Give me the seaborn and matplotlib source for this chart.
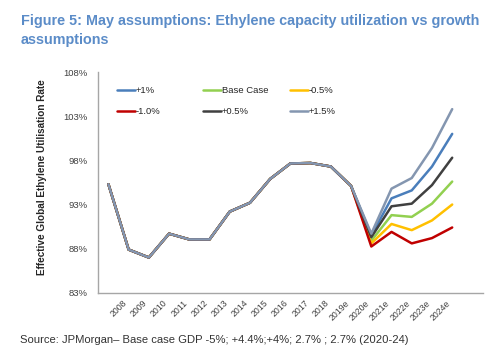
import numpy as np
import pandas as pd
import seaborn as sns
import matplotlib.pyplot as plt
from matplotlib.lines import Line2D
from matplotlib.legend import Legend

# categorías del eje x (la primera no lleva etiqueta en el original)
years = ['2007', '2008', '2009', '2010', '2011', '2012', '2013', '2014', '2015',
         '2016', '2017', '2018', '2019e', '2020e', '2021e', '2022e', '2023e', '2024e']
tick_labels = years[1:]

# historia común a todos los escenarios (2007-2019e)
historia = [95.3, 87.9, 87.0, 89.7, 89.05, 89.05, 92.2, 93.2, 95.9,
            97.65, 97.7, 97.3, 95.1]

# escenarios 2020e-2024e
mas_1 = [89.5, 93.7, 94.6, 97.3, 101.0]
base = [88.9, 91.8, 91.6, 93.1, 95.6]
menos_05 = [88.6, 90.8, 90.1, 91.2, 93.0]
menos_10 = [88.25, 89.9, 88.6, 89.2, 90.4]
mas_05 = [89.3, 92.8, 93.1, 95.2, 98.3]
mas_15 = [89.7, 94.8, 96.0, 99.4, 103.8]

escenarios = ['+1%', 'Base Case', '-0.5%', '-1.0%', '+0.5%', '+1.5%']
valores = [mas_1, base, menos_05, menos_10, mas_05, mas_15]
colores = ['#4A7EBB', '#92D050', '#FFC000', '#C00000', '#404040', '#8496B0']

filas = []
for nombre, vals in zip(escenarios, valores):
    for i, v in enumerate(historia + vals):
        filas.append({'x': i, 'Tasa': v, 'Escenario': nombre})
df = pd.DataFrame(filas)

sns.set_style('white')
plt.rcParams['font.family'] = ['Liberation Sans', 'DejaVu Sans']

fig = plt.figure(figsize=(4.99, 3.62), dpi=100)
ax = fig.add_axes([0.197, 0.191, 0.770, 0.610])

sns.lineplot(data=df, x='x', y='Tasa', hue='Escenario', hue_order=escenarios,
             palette=colores, linewidth=1.8, legend=False, ax=ax)

gris = '#A6A6A6'
ax.set_xlim(-0.5, 18.5)
ax.set_ylim(83, 108)
ax.set_yticks(np.arange(83, 109, 5))
ax.set_yticklabels([f'{v}%' for v in range(83, 109, 5)], fontsize=6.8, color='#404040')
ax.set_xticks(range(1, len(tick_labels) + 1))
ax.set_xticklabels(tick_labels, rotation=45, ha='right', fontsize=6.3, color='#404040')
ax.set_xticks(np.arange(-0.5, 19, 1), minor=True)
ax.tick_params(axis='x', which='major', length=0, pad=4)
ax.tick_params(axis='x', which='minor', length=3, color=gris, direction='out')
ax.tick_params(axis='y', length=3.5, color=gris, direction='out', pad=4)
ax.set_xlabel('')
ax.set_ylabel('')
for lado in ['top', 'right']:
    ax.spines[lado].set_visible(False)
for lado in ['left', 'bottom']:
    ax.spines[lado].set_color(gris)
    ax.spines[lado].set_linewidth(1)

# leyenda: tres columnas separadas, como en Excel
columnas_x = [0.048, 0.272, 0.499]
for c in range(3):
    idx = [c, c + 3]
    manijas = [Line2D([], [], color=colores[i], linewidth=1.8) for i in idx]
    leg = Legend(ax, manijas, [escenarios[i] for i in idx], loc='center left',
                 bbox_to_anchor=(columnas_x[c], 0.869), frameon=False,
                 fontsize=6.8, handlelength=1.9, handletextpad=0.1,
                 labelspacing=1.25, borderpad=0, borderaxespad=0)
    ax.add_artist(leg)

fig.text(42 / 499, 0.511, 'Effective Global Ethylene Utilisation Rate', rotation=90,
         ha='center', va='center', fontsize=7.2, fontweight='bold', color='#262626')

fig.text(21 / 499, 1 - 14.5 / 362,
         'Figure 5: May assumptions: Ethylene capacity utilization vs growth\nassumptions',
         ha='left', va='top', fontsize=10.4, fontweight='bold', color='#5B8CC8',
         linespacing=1.38)

fig.text(20 / 499, 1 - 343 / 362,
         'Source: JPMorgan\u2013 Base case GDP -5%; +4.4%;+4%; 2.7% ; 2.7% (2020-24)',
         ha='left', va='baseline', fontsize=8.1, color='#333333')

fig.savefig('out.png', dpi=100)
